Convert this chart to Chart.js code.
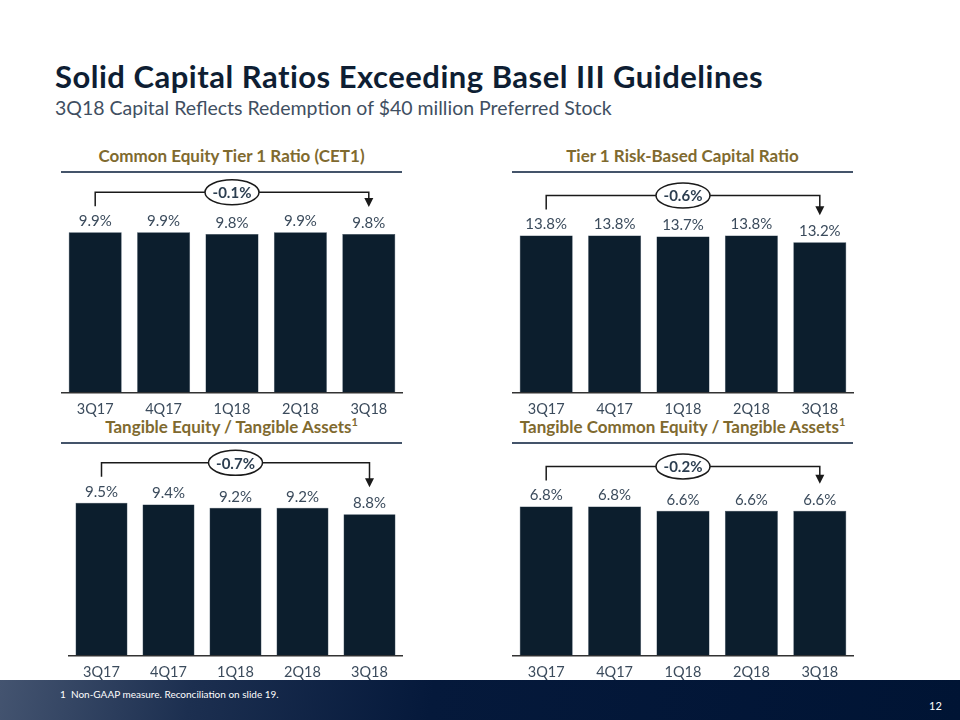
<!DOCTYPE html>
<html lang="en">
<head>
    <meta charset="UTF-8">
    <title>Solid Capital Ratios</title>
    <script src="https://cdn.jsdelivr.net/npm/chart.js"></script>
    <style>
        body { margin: 0; background: #fff; font-family: Lato, Arial, sans-serif; }
        .slide { position: relative; width: 960px; height: 720px; overflow: hidden; background: #fff; }
        .title { position: absolute; left: 55px; top: 58px; font-size: 31px; letter-spacing: 0.5px; font-weight: bold; color: #0e1e33; line-height: 36px; white-space: nowrap; }
        .subtitle { position: absolute; left: 55px; top: 96px; font-size: 19.5px; color: #3f4f62; line-height: 24px; white-space: nowrap; }
        .head { position: absolute; width: 341px; height: 30px; text-align: center; font-size: 17px; font-weight: bold; color: #7f6a2f; line-height: 30px; border-bottom: 2px solid #44546a; }
        .head sup { font-size: 11px; line-height: 0; }
        .box { position: absolute; }
        .footer { position: absolute; left: 0; top: 680px; width: 960px; height: 40px;
            background: linear-gradient(100deg, #445470 0%, #1c2f50 20%, #05193b 45%, #001434 100%); color: #fff; }
        .note { position: absolute; left: 60px; top: 8px; font-size: 10px; }
        .page { position: absolute; left: 929px; top: 19px; font-size: 11px; }
    </style>
</head>
<body>
<div class="slide">
    <div class="title">Solid Capital Ratios Exceeding Basel III Guidelines</div>
    <div class="subtitle">3Q18 Capital Reflects Redemption of $40 million Preferred Stock</div>

    <div class="head" style="left:61px; top:141px;">Common Equity Tier 1 Ratio (CET1)</div>
    <div class="head" style="left:512px; top:141px;">Tier 1 Risk-Based Capital Ratio</div>
    <div class="head" style="left:61px; top:412px;">Tangible Equity / Tangible Assets<sup>1</sup></div>
    <div class="head" style="left:512px; top:412px;">Tangible Common Equity / Tangible Assets<sup>1</sup></div>

    <div class="box" style="left:61px; top:174px; width:342px; height:252px;"><canvas id="cet1Chart"></canvas></div>
    <div class="box" style="left:512px; top:174px; width:342px; height:252px;"><canvas id="tier1Chart"></canvas></div>
    <div class="box" style="left:68px; top:445px; width:335px; height:244px;"><canvas id="teChart"></canvas></div>
    <div class="box" style="left:512px; top:445px; width:342px; height:244px;"><canvas id="tceChart"></canvas></div>

    <div class="footer">
        <div class="note">1&nbsp;&nbsp;Non-GAAP measure. Reconciliation on slide 19.</div>
        <div class="page">12</div>
    </div>
</div>

<script>
    // data
    const quarters = ['3Q17', '4Q17', '1Q18', '2Q18', '3Q18'];
    const cet1Ratio = [9.9, 9.9, 9.8, 9.9, 9.8];
    const tier1Ratio = [13.8, 13.8, 13.7, 13.8, 13.2];
    const tangibleEquity = [9.5, 9.4, 9.2, 9.2, 8.8];
    const tangibleCommon = [6.8, 6.8, 6.6, 6.6, 6.6];
    const changes = ['-0.1%', '-0.6%', '-0.7%', '-0.2%'];
    const yMax = [13.5, 19.2, 13.1, 9.6];

    // value labels + bracket with change oval
    const annotate = {
        id: 'annotate',
        afterDatasetsDraw(chart, args, opts) {
            const ctx = chart.ctx;
            const bars = chart.getDatasetMeta(0).data;
            const vals = chart.data.datasets[0].data;
            ctx.save();
            ctx.textAlign = 'center';
            ctx.textBaseline = 'middle';
            ctx.font = '15px Lato';
            ctx.fillStyle = '#3b4b5c';
            bars.forEach((b, i) => ctx.fillText(vals[i].toFixed(1) + '%', b.x, b.y - 11));

            const first = bars[0], last = bars[bars.length - 1];
            const topY = Math.min(...bars.map(b => b.y));
            const lineY = topY - 40;
            const leftBottom = first.y - 26;
            const tipY = last.y - 27;
            ctx.strokeStyle = '#1a1a1a';
            ctx.lineWidth = 1.5;
            ctx.beginPath();
            ctx.moveTo(first.x, leftBottom);
            ctx.lineTo(first.x, lineY);
            ctx.lineTo(last.x, lineY);
            ctx.lineTo(last.x, tipY - 8);
            ctx.stroke();
            ctx.fillStyle = '#1a1a1a';
            ctx.beginPath();
            ctx.moveTo(last.x - 4.5, tipY - 9);
            ctx.lineTo(last.x + 4.5, tipY - 9);
            ctx.lineTo(last.x, tipY);
            ctx.closePath();
            ctx.fill();

            const cx = (first.x + last.x) / 2;
            ctx.beginPath();
            ctx.ellipse(cx, lineY, 27, 12.5, 0, 0, Math.PI * 2);
            ctx.fillStyle = '#fff';
            ctx.fill();
            ctx.stroke();
            ctx.fillStyle = '#2c3e50';
            ctx.font = 'bold 15px Lato';
            ctx.fillText(opts.change, cx, lineY + 1);
            ctx.restore();
        }
    };

    function makeChart(id, values, max, change) {
        new Chart(document.getElementById(id), {
            type: 'bar',
            data: {
                labels: quarters,
                datasets: [{
                    data: values,
                    backgroundColor: '#0c1e2d',
                    borderColor: '#24384a',
                    borderWidth: 0.5,
                    barPercentage: 0.775,
                    categoryPercentage: 1
                }]
            },
            options: {
                responsive: true,
                maintainAspectRatio: false,
                animation: false,
                layout: { padding: 0 },
                plugins: {
                    legend: { display: false },
                    tooltip: { enabled: false },
                    annotate: { change: change }
                },
                scales: {
                    x: {
                        grid: { display: false, drawTicks: false },
                        border: { display: true, color: '#333', width: 1.5 },
                        ticks: { color: '#3b4b5c', font: { family: 'Lato', size: 14.5 }, padding: 8 }
                    },
                    y: { display: false, min: 0, max: max }
                }
            },
            plugins: [annotate]
        });
    }

    makeChart('cet1Chart', cet1Ratio, yMax[0], changes[0]);
    makeChart('tier1Chart', tier1Ratio, yMax[1], changes[1]);
    makeChart('teChart', tangibleEquity, yMax[2], changes[2]);
    makeChart('tceChart', tangibleCommon, yMax[3], changes[3]);
</script>
</body>
</html>
